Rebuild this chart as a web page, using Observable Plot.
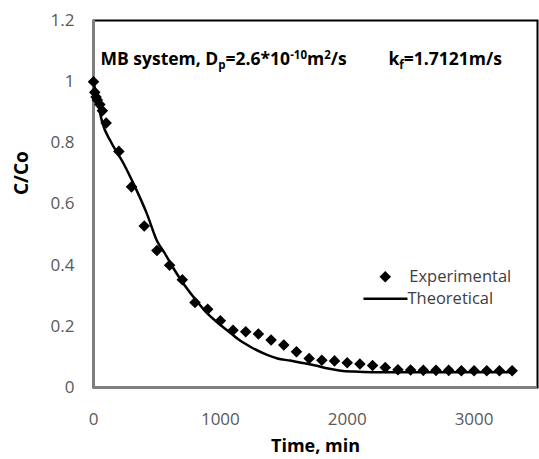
<!DOCTYPE html>
<html>
<head>
<meta charset="utf-8">
<script src="https://cdn.jsdelivr.net/npm/d3@7"></script>
<script src="https://cdn.jsdelivr.net/npm/@observablehq/plot@0.6"></script>
<style>
  html, body { margin: 0; padding: 0; background: #fff; }
  #chart svg { display: block; }
</style>
</head>
<body>
<div id="chart"></div>
<script>
// Experimental data (Time, min  vs  C/Co)
const expTime = [0, 10, 20, 30, 50, 70, 100, 200, 300, 400, 500, 600, 700, 800, 900, 1000,
  1100, 1200, 1300, 1400, 1500, 1600, 1700, 1800, 1900, 2000, 2100, 2200, 2300, 2400,
  2500, 2600, 2700, 2800, 2900, 3000, 3100, 3200, 3300];
const expC = [1.0, 0.965, 0.95, 0.94, 0.925, 0.905, 0.865, 0.772, 0.656, 0.528, 0.448, 0.40, 0.352, 0.278, 0.256, 0.218,
  0.187, 0.182, 0.175, 0.155, 0.139, 0.117, 0.095, 0.089, 0.087, 0.081, 0.077, 0.072, 0.065, 0.058,
  0.057, 0.056, 0.056, 0.056, 0.055, 0.055, 0.055, 0.055, 0.055];

// Theoretical curve
const thTime = [0, 30, 70, 135, 240, 317, 422, 500, 560, 630, 700, 790, 880, 970, 1060, 1150,
  1250, 1350, 1450, 1550, 1650, 1750, 1850, 1950, 2050, 2200, 2500, 3000, 3300];
const thC = [1.0, 0.94, 0.865, 0.805, 0.73, 0.665, 0.567, 0.48, 0.44, 0.39, 0.345, 0.295, 0.25, 0.215, 0.185, 0.155,
  0.13, 0.11, 0.095, 0.088, 0.08, 0.072, 0.062, 0.055, 0.052, 0.05, 0.05, 0.05, 0.05];

const xTicks = [0, 1000, 2000, 3000];
const yTicks = [0, 0.2, 0.4, 0.6, 0.8, 1.0, 1.2];
const legendLabels = ["Experimental", "Theoretical"];
// legend anchor in data space
const legendX = [2300, 2128, 2475];
const legendY = [0.362, 0.290];

const expData = expTime.map((t, i) => ({t, c: expC[i]}));
const thData = thTime.map((t, i) => ({t, c: thC[i]}));

const FONT = "'Open Sans', 'Liberation Sans', sans-serif";
const tickColor = "#595959";

const svg = Plot.plot({
  width: 539,
  height: 459,
  marginLeft: 93,
  marginRight: 2,
  marginTop: 20,
  marginBottom: 72,
  style: {fontFamily: FONT, fontSize: "17px", background: "#fff"},
  x: {domain: [0, 3500]},
  y: {domain: [0, 1.2]},
  marks: [
    Plot.frame({stroke: "#000", strokeWidth: 2}),
    Plot.ruleX([0], {stroke: "#7f7f7f", strokeWidth: 3}),
    Plot.ruleY([0], {stroke: "#7f7f7f", strokeWidth: 3}),
    Plot.axisX({ticks: xTicks, tickSize: 0, tickPadding: 25, label: null,
      tickFormat: d => String(d), fill: tickColor, fontSize: 17}),
    Plot.axisY({ticks: yTicks, tickSize: 0, tickPadding: 19, label: null,
      tickFormat: d => String(+d.toFixed(1)), fill: tickColor, fontSize: 17}),
    Plot.line(thData, {x: "t", y: "c", stroke: "#000", strokeWidth: 2.5, curve: "monotone-x"}),
    Plot.dot(expData, {x: "t", y: "c", symbol: "diamond2", r: 5.2, fill: "#000", stroke: "none"}),
    // legend
    Plot.dot([legendLabels[0]], {x: () => legendX[0], y: () => legendY[0], symbol: "diamond2", r: 5.2, fill: "#000"}),
    Plot.text([legendLabels[0]], {x: () => legendX[0], y: () => legendY[0], text: d => d, dx: 24, textAnchor: "start", fill: "#404040", fontSize: 16.5}),
    Plot.link([legendLabels[1]], {x1: () => legendX[1], x2: () => legendX[2], y1: () => legendY[1], y2: () => legendY[1], stroke: "#000", strokeWidth: 2.5}),
    Plot.text([legendLabels[1]], {x: () => legendX[2], y: () => legendY[1], text: d => d, dx: 0, textAnchor: "start", fill: "#404040", fontSize: 16.5}),
    // annotation
    Plot.text(["MB system"], {frameAnchor: "top-left", dx: 7, dy: 39, lineAnchor: "middle", textAnchor: "start", fontWeight: "bold", fontSize: 17.5, fill: "#000", className: "annot1"}),
    Plot.text(["kf"], {frameAnchor: "top-left", dx: 295, dy: 39, lineAnchor: "middle", textAnchor: "start", fontWeight: "bold", fontSize: 17.5, fill: "#000", className: "annot2"}),
    // axis titles
    Plot.text(["Time, min"], {frameAnchor: "bottom", dy: 59, lineAnchor: "middle", fontWeight: "bold", fontSize: 18, fill: "#000"}),
    Plot.text(["C/Co"], {frameAnchor: "left", dx: -72, dy: -9, lineAnchor: "middle", rotate: -90, fontWeight: "bold", fontSize: 19, fill: "#000"})
  ]
});

function richText(sel, parts) {
  const t = svg.querySelector(sel + " text");
  if (!t) return;
  t.textContent = "";
  let shift = 0;
  for (const [s, kind] of parts) {
    const ts = document.createElementNS("http://www.w3.org/2000/svg", "tspan");
    const target = kind === "sub" ? 4 : kind === "sup" ? -6 : 0;
    ts.setAttribute("dy", String(target - shift));
    shift = target;
    if (kind) ts.setAttribute("font-size", "11.5");
    ts.textContent = s;
    t.appendChild(ts);
  }
}
richText(".annot1", [["MB system, D", null], ["p", "sub"], ["=2.6*10", null], ["-10", "sup"], ["m", null], ["2", "sup"], ["/s", null]]);
richText(".annot2", [["k", null], ["f", "sub"], ["=1.7121m/s", null]]);

document.getElementById("chart").appendChild(svg);
</script>
</body>
</html>
